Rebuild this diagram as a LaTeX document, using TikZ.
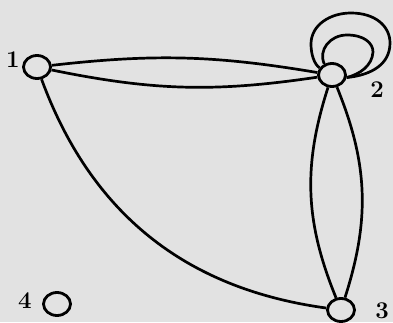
\documentclass[tikz,border=0pt]{standalone}
\usetikzlibrary{shapes.geometric}
\definecolor{bg}{RGB}{226,226,226}
\begin{document}
\begin{tikzpicture}[x=1pt,y=1pt,
  vtx/.style={draw,ellipse,line width=2.8pt,minimum width=27pt,minimum height=23pt,inner sep=0pt},
  lbl/.style={font=\fontsize{24}{26}\selectfont\bfseries,inner sep=0pt},
  edge/.style={line width=2.7pt}]
\fill[bg] (0,0) rectangle (393,322);
\useasboundingbox (0,0) rectangle (393,322);
\node[vtx] (n1) at (37,255) {};
\node[vtx] (n2) at (332,247) {};
\node[vtx] (n3) at (341,12) {};
\node[vtx] (n4) at (57,18) {};
\node[lbl] (l1) at (13,262) {1};
\node[lbl] (l2) at (377,232) {2};
\node[lbl] (l3) at (382,11) {3};
\node[lbl] (l4) at (25,21) {4};
\draw[edge] (n1) to[bend left=8] (n2);
\draw[edge] (n1) to[bend right=10] (n2);
\draw[edge] (n1) to[bend right=31] (n3);
\draw[edge] (n2) to[bend right=20] (n3);
\draw[edge] (n2) to[bend left=20] (n3);
\draw[edge] (n2.150) .. controls (314,258) and (311,268) .. (311,278)
  .. controls (311,297) and (330,309) .. (351,309)
  .. controls (375,309) and (390,296) .. (390,279)
  .. controls (390,258) and (372,247) .. (n2.-10);
\draw[edge] (n2.125) .. controls (318,272) and (330,287) .. (347,287)
  .. controls (364,287) and (373,279) .. (373,270)
  .. controls (372,256) and (360,248) .. (n2.-10);
\end{tikzpicture}
\end{document}
